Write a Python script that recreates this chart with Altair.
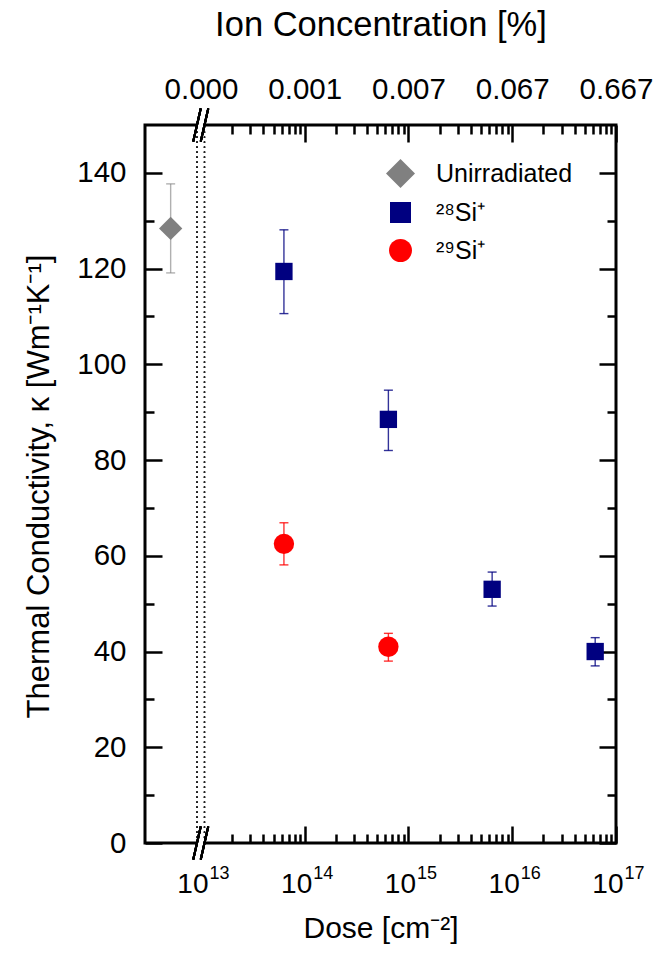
import altair as alt
import pandas as pd

FONT = "Liberation Sans"

# ---- series definitions -------------------------------------------------
SERIES = ["Unirradiated", "²⁸Si⁺", "²⁹Si⁺"]
SERIES_COLORS = ["#808080", "#000080", "#ff0000"]
SERIES_SHAPES = ["diamond", "square", "circle"]
MARKER_SIZES = [545, 300, 415]          # plotted markers
LEGEND_SYMBOL_SIZES = [841, 441, 529]   # legend markers (drawn larger)

# unirradiated reference sample, drawn in the segment left of the axis break
UNIRR_DOSE = [5.1e12]
UNIRR_K = [128.4]
UNIRR_LO = [119.1]
UNIRR_HI = [137.7]

SI28_DOSE = [6.3e13, 6.4e14, 6.4e15, 6.3e16]
SI28_K = [119.4, 88.5, 53.0, 40.0]
SI28_LO = [110.6, 82.0, 49.5, 37.0]
SI28_HI = [128.1, 94.6, 56.6, 42.9]

SI29_DOSE = [6.3e13, 6.4e14]
SI29_K = [62.5, 41.0]
SI29_LO = [58.1, 38.0]
SI29_HI = [66.9, 43.8]

# ---- axes ------------------------------------------------------------------
X_DOMAIN = [2.886e12, 1e17]
AXIS_BREAK = 1e13
DECADE_EXPONENTS = [13, 14, 15, 16, 17]
TOP_TICK_LABELS = ["0.000", "0.001", "0.007", "0.067", "0.667"]
Y_DOMAIN = [0, 150]
Y_LABEL_TICKS = [0, 20, 40, 60, 80, 100, 120, 140]
Y_MINOR_TICKS = [10, 30, 50, 70, 90, 110, 130]

W, H = 471, 718
TICK_FS = 29.5

DECADES = [10.0 ** e for e in DECADE_EXPONENTS]
MAJOR_X_TICKS = DECADES[1:]
MINOR_X_TICKS = [float(m) * 10.0 ** e for e in DECADE_EXPONENTS[:-1] for m in range(2, 10)]

rows = []
for s, d, k, lo, hi in [
    (SERIES[0], UNIRR_DOSE, UNIRR_K, UNIRR_LO, UNIRR_HI),
    (SERIES[1], SI28_DOSE, SI28_K, SI28_LO, SI28_HI),
    (SERIES[2], SI29_DOSE, SI29_K, SI29_LO, SI29_HI),
]:
    for i in range(len(d)):
        rows.append({"series": s, "dose": d[i], "k": k[i], "lo": lo[i], "hi": hi[i]})
df = pd.DataFrame(rows)

xscale = alt.Scale(type="log", domain=X_DOMAIN, nice=False)
yscale = alt.Scale(domain=Y_DOMAIN, nice=False, zero=False)

common = dict(domain=False, grid=False, labelFont=FONT, titleFont=FONT,
              labelColor="black", titleColor="black", tickColor="black",
              labelFlush=False, labelOverlap=False)


def tick_axis(orient, offset, values, size):
    return alt.Axis(orient=orient, offset=offset, values=values, ticks=True,
                    tickSize=size, tickWidth=2.5, labels=False, title=None, **common)


top_expr = "'" + TOP_TICK_LABELS[-1] + "'"
for e, lab in reversed(list(zip(DECADE_EXPONENTS[:-1], TOP_TICK_LABELS[:-1]))):
    top_expr = f"round(log(datum.value)/LN10) == {e} ? '{lab}' : ({top_expr})"

x_axes = [
    tick_axis("top", -H, MAJOR_X_TICKS, 17),
    tick_axis("top", -H, MINOR_X_TICKS, 9),
    tick_axis("bottom", -H, MAJOR_X_TICKS, 17),
    tick_axis("bottom", -H, MINOR_X_TICKS, 9),
    alt.Axis(orient="bottom", values=DECADES, ticks=False, labelExpr="'10'",
             labelAlign="right", labelOffset=7, labelPadding=49,
             labelBaseline="alphabetic", labelFontSize=28,
             title="Dose [cm⁻²]", titleFontSize=30, titleFontWeight="normal",
             titleY=94, titleBaseline="alphabetic", **common),
    alt.Axis(orient="bottom", values=DECADES, ticks=False,
             labelExpr="'' + round(log(datum.value)/LN10)",
             labelAlign="left", labelOffset=8, labelPadding=35,
             labelBaseline="alphabetic", labelFontSize=18, title=None, **common),
    alt.Axis(orient="top", values=DECADES, ticks=False, labelExpr=top_expr,
             labelAlign="center", labelPadding=27, labelBaseline="alphabetic",
             labelFontSize=TICK_FS, title="Ion Concentration [%]", titleFontSize=34.5,
             titleFontWeight="normal", titleY=-90, titleBaseline="alphabetic",
             **common),
]
y_axes = [
    alt.Axis(orient="left", values=Y_LABEL_TICKS, ticks=False, labelPadding=19,
             labelFontSize=TICK_FS, title="Thermal Conductivity, κ [Wm⁻¹K⁻¹]",
             titleFontSize=31, titleFontWeight="normal", titleX=-97, titleY=361,
             titleBaseline="alphabetic", **common),
    tick_axis("right", -W, Y_LABEL_TICKS, 17),
    tick_axis("right", -W, Y_MINOR_TICKS, 9),
    tick_axis("left", -W, Y_LABEL_TICKS, 17),
    tick_axis("left", -W, Y_MINOR_TICKS, 9),
]

layers = []
# invisible carrier layers holding the axes
for i, ax in enumerate(x_axes):
    ay = y_axes[i] if i < len(y_axes) else None
    layers.append(
        alt.Chart(df).mark_point(opacity=0, size=1).encode(
            x=alt.X("dose:Q", scale=xscale, axis=ax),
            y=alt.Y("k:Q", scale=yscale, axis=ay),
        )
    )

legend = alt.Legend(title=None, orient="none", legendX=241, legendY=34, padding=0,
                    labelFont=FONT, labelFontSize=25, labelColor="black",
                    labelOffset=21, rowPadding=12, symbolStrokeWidth=0,
                    symbolOpacity=1)
color_scale = alt.Scale(domain=SERIES, range=SERIES_COLORS)
shape_scale = alt.Scale(domain=SERIES, range=SERIES_SHAPES)
color = alt.Color("series:N", scale=color_scale, legend=legend)
shape = alt.Shape("series:N", scale=shape_scale, legend=legend)
xenc = alt.X("dose:Q", scale=xscale, axis=None)
err_opacity = alt.condition("datum.series === 'Unirradiated'", alt.value(0.62), alt.value(0.8))

# axis-break decorations
for off in (-4, 3.5):
    layers.append(
        alt.Chart(df).mark_rule(color="#222222", strokeWidth=1.2, strokeDash=[1.5, 3.5], xOffset=off).encode(
            x=alt.X(datum=AXIS_BREAK, type="quantitative", scale=xscale, axis=None),
            y=alt.Y(datum=Y_DOMAIN[0], type="quantitative", scale=yscale, axis=None),
            y2=alt.Y2(datum=Y_DOMAIN[1]),
        )
    )
for yv in Y_DOMAIN:
    layers.append(
        alt.Chart(df).mark_rect(color="white", xOffset=-3, x2Offset=2.5, yOffset=-2.5, y2Offset=2.5).encode(
            x=alt.X(datum=AXIS_BREAK, type="quantitative", scale=xscale, axis=None),
            x2=alt.X2(datum=AXIS_BREAK),
            y=alt.Y(datum=yv, type="quantitative", scale=yscale, axis=None),
            y2=alt.Y2(datum=yv),
        )
    )
    for mid in (-4, 3.5):
        layers.append(
            alt.Chart(df).mark_rule(color="black", strokeWidth=2,
                                    xOffset=mid - 3.75, x2Offset=mid + 3.75,
                                    yOffset=16.5, y2Offset=-16.5).encode(
                x=alt.X(datum=AXIS_BREAK, type="quantitative", scale=xscale, axis=None),
                x2=alt.X2(datum=AXIS_BREAK),
                y=alt.Y(datum=yv, type="quantitative", scale=yscale, axis=None),
                y2=alt.Y2(datum=yv),
            )
        )

# legend carrier: invisible points that define the legend symbols (larger than plotted)
layers.append(
    alt.Chart(df).mark_point(filled=True, opacity=0, strokeWidth=0).encode(
        x=xenc,
        y=alt.Y("k:Q", scale=yscale, axis=None),
        color=color,
        shape=shape,
        size=alt.Size("series:N", scale=alt.Scale(type="ordinal", domain=SERIES, range=LEGEND_SYMBOL_SIZES), legend=legend),
    )
)

# error bars
layers.append(
    alt.Chart(df).mark_rule(strokeWidth=1.4).encode(
        x=xenc, y=alt.Y("lo:Q", scale=yscale, axis=None), y2="hi:Q",
        color=color, opacity=err_opacity)
)
for fld in ("lo", "hi"):
    layers.append(
        alt.Chart(df).mark_tick(orient="horizontal", size=9, thickness=1.4).encode(
            x=xenc, y=alt.Y(f"{fld}:Q", scale=yscale, axis=None),
            color=color, opacity=err_opacity)
    )

# data points, one layer per series with its own marker size
for s, msize in zip(SERIES, MARKER_SIZES):
    layers.append(
        alt.Chart(df).transform_filter(alt.datum.series == s)
        .mark_point(filled=True, opacity=1, strokeWidth=0, size=msize).encode(
            x=xenc,
            y=alt.Y("k:Q", scale=yscale, axis=None),
            color=color,
            shape=shape,
        )
    )

chart = (
    alt.layer(*layers)
    .resolve_axis(x="independent", y="independent")
    .properties(width=W, height=H, autosize="none",
                padding={"left": 145, "top": 125, "right": 40, "bottom": 120})
    .configure_view(stroke="black", strokeWidth=3)
)

chart.save("out.html", embed_options={"renderer": "svg", "actions": False})
